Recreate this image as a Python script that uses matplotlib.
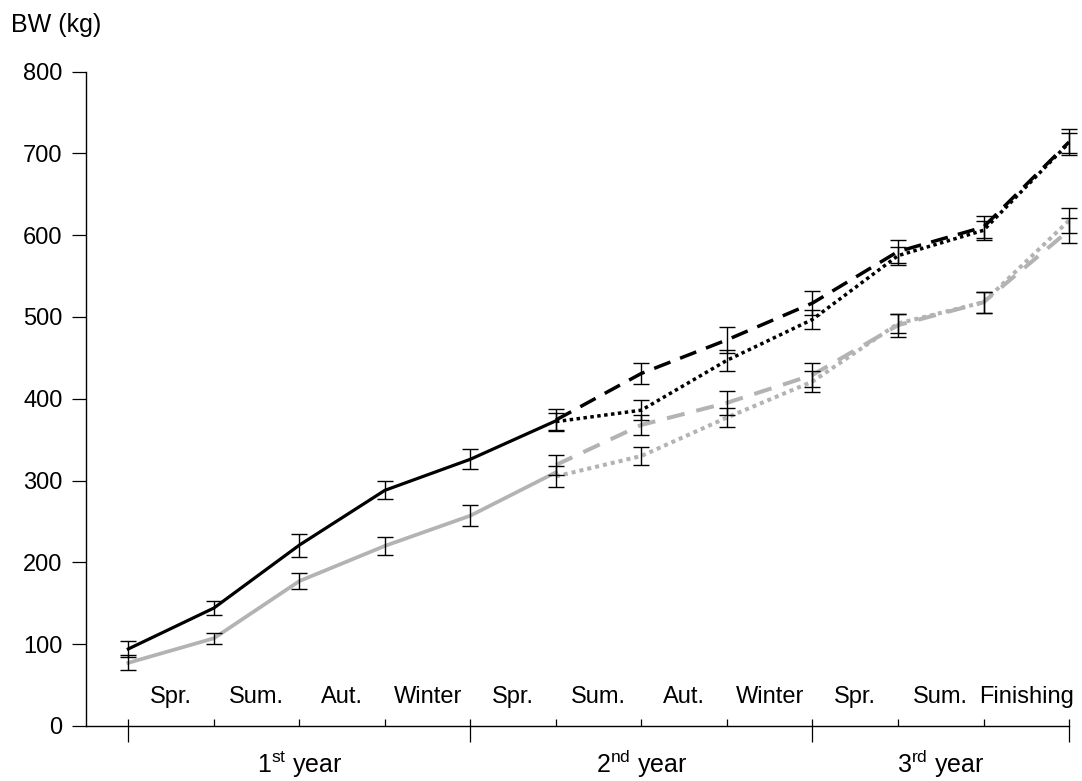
import numpy as np
import matplotlib
matplotlib.use('Agg')
import matplotlib.pyplot as plt

plt.rcParams['font.family'] = ['Liberation Sans', 'DejaVu Sans']
plt.rcParams['mathtext.fontset'] = 'custom'
plt.rcParams['mathtext.rm'] = 'Liberation Sans'
plt.rcParams['mathtext.it'] = 'Liberation Sans:italic'
plt.rcParams['mathtext.bf'] = 'Liberation Sans:bold'

# season boundaries (x index 0..11)
x_first = np.arange(0, 6)
x_second = np.arange(5, 12)

season_labels = ['Spr.', 'Sum.', 'Aut.', 'Winter', 'Spr.', 'Sum.', 'Aut.',
                 'Winter', 'Spr.', 'Sum.', 'Finishing']
year_labels = [r'1$^{\mathrm{st}}$ year', r'2$^{\mathrm{nd}}$ year', r'3$^{\mathrm{rd}}$ year']
year_bounds = [(0, 4), (4, 8), (8, 11)]

# black group, common period then two branches
black_solid = [94, 144, 221, 288, 326, 373]
black_solid_err = [10, 9, 14, 11, 12, 0]
black_dashed = [374, 431, 472, 517, 580, 610, 714]
black_dashed_err = [13, 13, 16, 15, 14, 14, 16]
black_dotted = [372, 386, 447, 497, 575, 606, 713]
black_dotted_err = [10, 12, 13, 12, 11, 12, 12]

# grey group
grey_solid = [77, 107, 177, 220, 257, 310]
grey_solid_err = [9, 6.5, 10, 11, 13, 0]
grey_dashed = [319, 368, 395, 429, 490, 518, 606]
grey_dashed_err = [12, 12, 15, 15, 14, 13, 15]
grey_dotted = [305, 330, 377, 421, 492, 518, 618]
grey_dotted_err = [13, 11, 12, 13, 12, 13, 15]

grey = '#b3b3b3'

fig = plt.figure(figsize=(10.82, 7.81), dpi=100)
ax = fig.add_axes([0.0795, 0.0707, 0.9085, 0.8375])

ax.plot(x_first, grey_solid, color=grey, lw=2.7, zorder=2)
ax.plot(x_second, grey_dashed, color=grey, lw=2.9, dashes=(4.5, 3), zorder=2)
ax.plot(x_second, grey_dotted, color=grey, lw=2.9, dashes=(1, 1), zorder=2)
ax.plot(x_first, black_solid, color='black', lw=2.3, zorder=3)
ax.plot(x_second, black_dashed, color='black', lw=2.5, dashes=(5, 3), zorder=3)
ax.plot(x_second, black_dotted, color='black', lw=2.5, dashes=(1, 1), zorder=3)

err_kw = dict(fmt='none', ecolor='black', elinewidth=1.0, capsize=5.5,
              capthick=1.0, zorder=4, clip_on=False)
for xs, ys, es in [(x_first, black_solid, black_solid_err),
                   (x_first, grey_solid, grey_solid_err),
                   (x_second, black_dashed, black_dashed_err),
                   (x_second, black_dotted, black_dotted_err),
                   (x_second, grey_dashed, grey_dashed_err),
                   (x_second, grey_dotted, grey_dotted_err)]:
    xs = np.asarray(xs)
    es = np.asarray(es)
    keep = es > 0
    ax.errorbar(xs[keep], np.asarray(ys)[keep], yerr=es[keep], **err_kw)

ax.set_xlim(-0.495, 11)
ax.set_ylim(0, 800)
ax.spines['top'].set_visible(False)
ax.spines['right'].set_visible(False)
ax.spines['left'].set_linewidth(1.0)
ax.spines['bottom'].set_linewidth(1.0)

ax.set_yticks(np.arange(0, 801, 100))
ax.tick_params(axis='y', direction='out', length=10, width=0.9, pad=7, labelsize=17)

ax.xaxis.remove_overlapping_locs = False
ax.set_xticks([0, 4, 8, 11])
ax.set_xticks(np.arange(0, 12), minor=True)
ax.set_xticklabels([])
ax.tick_params(axis='x', which='major', direction='out', length=11.5, width=0.9)
ax.tick_params(axis='x', which='minor', direction='in', length=5.4, width=0.9)

for i, lab in enumerate(season_labels):
    ax.text(i + 0.5, 35, lab, ha='center', va='center', fontsize=17)

for lab, (a, b) in zip(year_labels, year_bounds):
    ax.text((a + b) / 2, -47, lab, ha='center', va='center', fontsize=18,
            clip_on=False)

fig.text(11 / 1082, 1 - 25 / 781, 'BW (kg)', ha='left', va='center', fontsize=18)

fig.savefig('out.png', dpi=100)
